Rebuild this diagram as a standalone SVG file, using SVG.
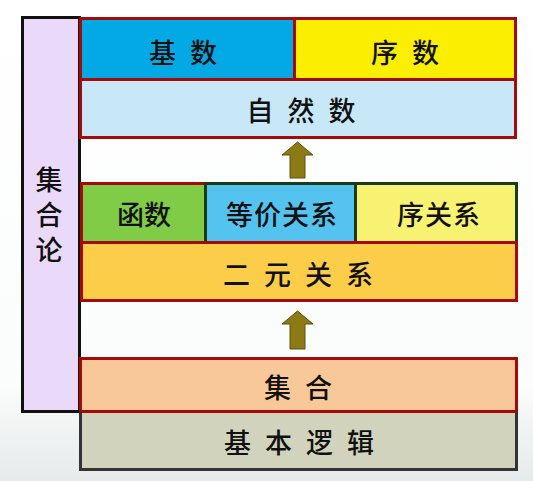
<svg xmlns="http://www.w3.org/2000/svg" width="533" height="481" viewBox="0 0 533 481">
<defs>
<linearGradient id="bg" x1="0" y1="0" x2="0" y2="1">
<stop offset="0" stop-color="#ffffff"/>
<stop offset="0.8" stop-color="#fbfcfc"/>
<stop offset="1" stop-color="#e6eaea"/>
</linearGradient>
</defs>
<style>
.t{font-family:"Noto Sans CJK SC","Noto Sans",sans-serif;font-size:27px;font-weight:500;fill:#111;text-anchor:middle;dominant-baseline:central}
.v{font-family:"Noto Sans CJK SC","Noto Sans",sans-serif;font-size:27px;font-weight:500;fill:#111;writing-mode:vertical-rl;text-anchor:start;letter-spacing:8px}
.red{stroke:#a40a0a;stroke-width:3}
.grn{stroke:#1c3a14;stroke-width:3}
.blk{stroke:#111;stroke-width:3}
.gry{stroke:#333;stroke-width:3}
.arr{fill:#8c7a14;stroke:#5e5208;stroke-width:1}
</style>
<rect width="533" height="481" fill="url(#bg)"/>

<g id="jiheLun">
<rect x="22.5" y="17.5" width="57" height="394" fill="#ead9f8" class="blk"/>
<text class="v" x="49" y="166">集合论</text>
</g>

<g id="jishu">
<rect x="80.5" y="18.5" width="214" height="61" fill="#02a9e4" class="red"/>
<text class="t" x="190" y="51" letter-spacing="14">基数</text>
</g>
<g id="xushu">
<rect x="294.5" y="18.5" width="221" height="61" fill="#fbee00" class="red"/>
<text class="t" x="412" y="51" letter-spacing="14">序数</text>
</g>
<g id="ziranshu">
<rect x="80.5" y="79.5" width="435" height="58" fill="#c8e8f8" class="red"/>
<text class="t" x="308" y="109" letter-spacing="14">自然数</text>
</g>

<g id="hanshu">
<rect x="81.5" y="183.5" width="124" height="59" fill="#80cc46" class="red"/>
<text class="t" x="144" y="213">函数</text>
</g>
<g id="dengjia">
<rect x="205.5" y="183.5" width="150" height="59" fill="#55c3ef" class="grn"/>
<text class="t" x="282" y="213" letter-spacing="1">等价关系</text>
</g>
<g id="xuguanxi">
<rect x="355.5" y="183.5" width="161" height="59" fill="#f8f272" class="grn"/>
<text class="t" x="439" y="213" letter-spacing="1">序关系</text>
</g>
<g id="eryuan">
<rect x="81.5" y="242.5" width="435" height="58" fill="#fccd48" class="red"/>
<text class="t" x="305" y="273" letter-spacing="14">二元关系</text>
</g>

<g id="jihe">
<rect x="80.5" y="358.5" width="436" height="53" fill="#f9c898" class="red"/>
<text class="t" x="305" y="386" letter-spacing="14">集合</text>
</g>
<g id="luoji">
<rect x="80.5" y="411.5" width="436" height="58" fill="#d1d3bd" class="gry"/>
<rect x="80.5" y="410" width="436" height="3" fill="#a40a0a"/>
<text class="t" x="306" y="441" letter-spacing="14">基本逻辑</text>
</g>

<g id="connectors">
<path class="arr" d="M297.5 142 L313 155 L305 155 L305 178 L290 178 L290 155 L282 155 Z"/>
<path class="arr" d="M297.5 311 L313 324 L305 324 L305 349 L290 349 L290 324 L282 324 Z"/>
</g>
</svg>
